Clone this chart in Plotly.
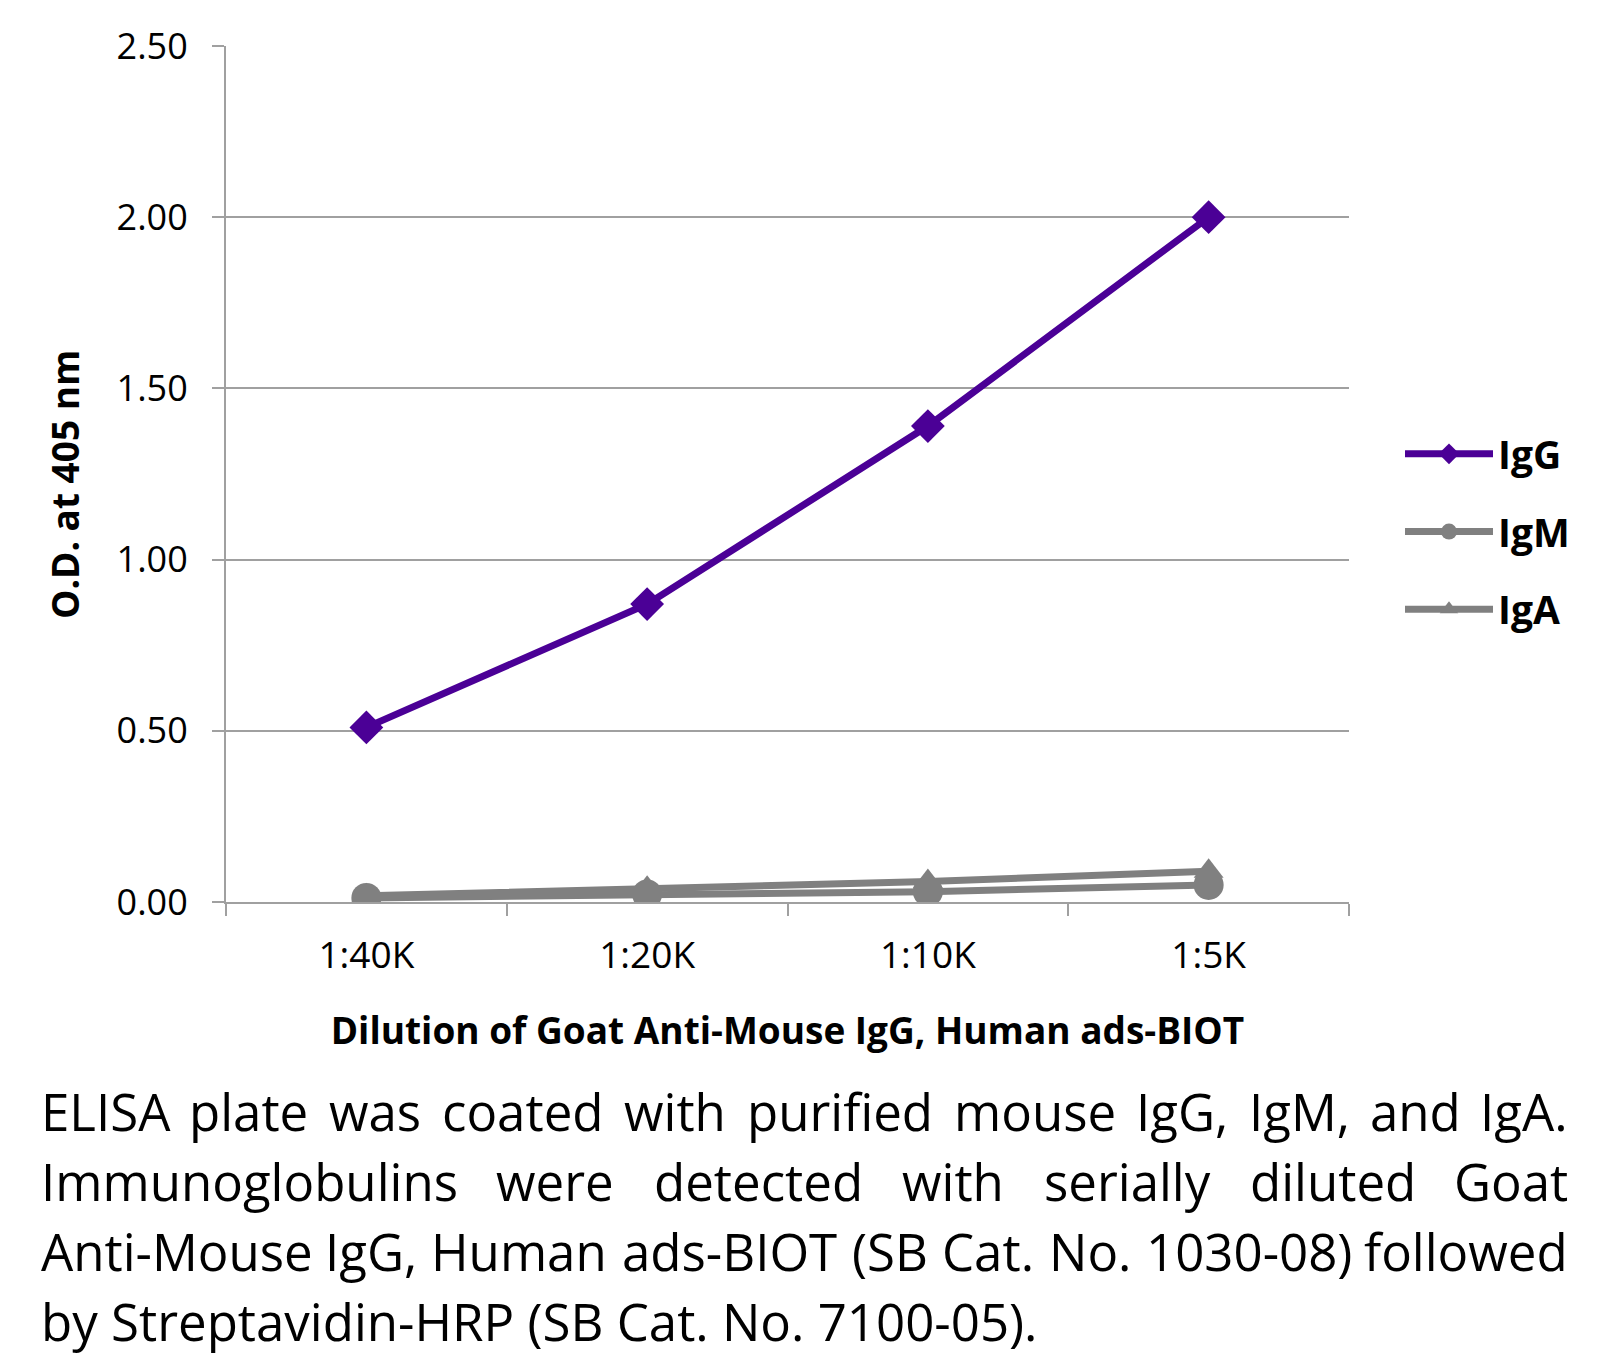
import plotly.graph_objects as go

categories = ["1:40K", "1:20K", "1:10K", "1:5K"]
igg = [0.51, 0.87, 1.39, 2.00]
igm = [0.012, 0.022, 0.03, 0.05]
iga = [0.018, 0.04, 0.06, 0.09]
series_names = ["IgG", "IgM", "IgA"]

caption_lines = [
    "ELISA plate was coated with purified mouse IgG, IgM, and IgA.",
    "Immunoglobulins were detected with serially diluted Goat",
    "Anti-Mouse IgG, Human ads-BIOT (SB Cat. No. 1030-08) followed",
    "by Streptavidin-HRP (SB Cat. No. 7100-05).",
]

# page offset: html body has an 8px margin
OFF = 8
W, H = 1617 - OFF, 1356 - OFF
# plot area in page pixels
L, R, T, B = 226, 1349, 46, 902

def px(x):
    return (x - L) / (R - L)

def py(y):
    return (B - y) / (B - T)

PURPLE = "#4B0096"
GRAY = "#808080"
GRID = "#A0A0A0"
FONT = "Open Sans"

fig = go.Figure()
fig.add_trace(go.Scatter(x=categories, y=igg, name=series_names[0], legendgroup="a",
                         mode="lines+markers",
                         line=dict(color=PURPLE, width=7),
                         marker=dict(symbol="diamond", size=26, color=PURPLE)))
fig.add_trace(go.Scatter(x=categories, y=igm, name=series_names[1], legendgroup="b",
                         mode="lines+markers",
                         line=dict(color=GRAY, width=7),
                         marker=dict(symbol="circle", size=30, color=GRAY)))
fig.add_trace(go.Scatter(x=categories, y=iga, name=series_names[2], legendgroup="c",
                         mode="lines+markers",
                         line=dict(color=GRAY, width=7),
                         marker=dict(symbol="triangle-up", size=26, color=GRAY)))

fig.update_layout(
    width=W, height=H,
    margin=dict(l=L - OFF, r=W - (R - OFF), t=T - OFF, b=H - (B - OFF), autoexpand=False),
    paper_bgcolor="white", plot_bgcolor="white",
    font=dict(family=FONT, color="black"),
    showlegend=True,
    legend=dict(x=px(1400), y=py(422), xanchor="left", yanchor="top",
                font=dict(size=39, family=FONT, weight="bold"),
                tracegroupgap=24, bgcolor="rgba(0,0,0,0)", itemwidth=88),
)

fig.update_xaxes(
    type="category", categoryorder="array", categoryarray=categories,
    range=[-0.5, 3.5],
    showline=True, linecolor=GRID, linewidth=2,
    ticks="outside", tickson="boundaries", ticklen=12, tickwidth=2, tickcolor=GRID,
    showgrid=False, tickfont=dict(size=37, family=FONT, color="black"),
    ticklabelstandoff=20,
    title=dict(text="<b>Dilution of Goat Anti-Mouse IgG, Human ads-BIOT</b>",
               font=dict(size=37, family=FONT, color="black"), standoff=40),
    automargin=False, zeroline=False,
)
fig.update_yaxes(
    range=[0, 2.5], dtick=0.5, tickformat=".2f",
    showline=True, linecolor=GRID, linewidth=2,
    ticks="outside", ticklen=12, tickwidth=2, tickcolor=GRID,
    showgrid=True, gridcolor=GRID, gridwidth=2,
    tickfont=dict(size=36, family=FONT, color="black"),
    ticklabelstandoff=17,
    automargin=False, zeroline=False,
)

# y-axis title placed as rotated annotation (centred slightly below plot centre as in reference)
fig.add_annotation(text="<b>O.D. at 405 nm</b>", textangle=-90,
                   xref="paper", yref="paper", x=px(64), y=py(485),
                   xanchor="center", yanchor="middle", showarrow=False,
                   font=dict(size=37, family=FONT, color="black"))

# ---- caption, justified like the reference ----
CAP = 51
cap_font = dict(size=CAP, family=FONT, color="black")
line_y = [1111, 1181, 1251, 1321]
XL, XR = 39, 1570

# approximate Open Sans advance widths (em)
CW = {" ": 0.26, "A": 0.633, "B": 0.648, "C": 0.631, "D": 0.729, "E": 0.556, "F": 0.516,
      "G": 0.725, "H": 0.738, "I": 0.279, "L": 0.519, "M": 0.903, "N": 0.754, "O": 0.779,
      "P": 0.602, "R": 0.618, "S": 0.549, "T": 0.553,
      "a": 0.556, "b": 0.613, "c": 0.48, "d": 0.613, "e": 0.561, "f": 0.336, "g": 0.546,
      "h": 0.614, "i": 0.252, "l": 0.252, "m": 0.93, "n": 0.614, "o": 0.601, "p": 0.613,
      "r": 0.408, "s": 0.477, "t": 0.353, "u": 0.614, "v": 0.5, "w": 0.774, "y": 0.5,
      ".": 0.266, ",": 0.245, "-": 0.322, "(": 0.296, ")": 0.296}

def wwidth(word):
    return sum(CW.get(ch, 0.572) for ch in word) * CAP

def ann(text, x, y, anchor):
    fig.add_annotation(text=text, xref="paper", yref="paper", x=px(x), y=py(y),
                       xanchor=anchor, yanchor="middle", showarrow=False, font=cap_font)

for i, line in enumerate(caption_lines):
    y = line_y[i]
    if i == len(caption_lines) - 1:
        ann(line, XL, y, "left")
        continue
    words = line.split(" ")
    widths = [wwidth(w) for w in words]
    gap = (XR - XL - sum(widths)) / (len(words) - 1)
    x = XL
    for j, (w, ww) in enumerate(zip(words, widths)):
        if j == 0:
            ann(w, XL, y, "left")
        elif j == len(words) - 1:
            ann(w, XR, y, "right")
        else:
            ann(w, x + ww / 2, y, "center")
        x += ww + gap

fig.write_html("out.html")
